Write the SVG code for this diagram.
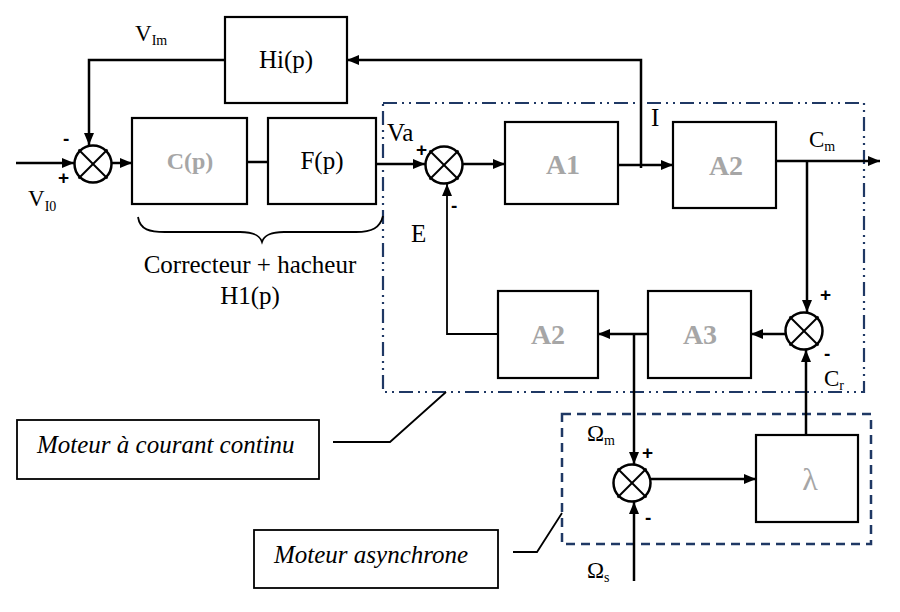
<svg xmlns="http://www.w3.org/2000/svg" width="900" height="612" viewBox="0 0 900 612">
<defs>
<marker id="arr" viewBox="0 0 12 10" refX="12" refY="5" markerWidth="12" markerHeight="10" markerUnits="userSpaceOnUse" orient="auto">
<path d="M0,0 L12,5 L0,10 z" fill="#000"/>
</marker>
<g id="sumsym">
<circle cx="0" cy="0" r="18.5" fill="#fff" stroke="#000" stroke-width="2.5"/>
<line x1="-14.5" y1="-14.5" x2="14.5" y2="14.5" stroke="#000" stroke-width="2"/>
<line x1="14.5" y1="-14.5" x2="-14.5" y2="14.5" stroke="#000" stroke-width="2"/>
</g>
</defs>
<style>
.blk{fill:#fff;stroke:#000;stroke-width:2.2}
.w{fill:none;stroke:#000;stroke-width:2.5}
.t{fill:none;stroke:#000;stroke-width:1.8}
.txt{font-family:'Liberation Serif','Times New Roman','DejaVu Serif',serif;font-size:25px;fill:#000}
.gr{font-family:'Liberation Serif','Times New Roman','DejaVu Serif',serif;font-size:28px;font-weight:bold;fill:#A6A6A6;text-anchor:middle}
.lbl{font-family:'Liberation Serif','Times New Roman','DejaVu Serif',serif;font-size:23px;fill:#000}
.big{font-size:25px}
.sub{font-size:14px}
.sg{font-family:'Liberation Sans',Arial,sans-serif;font-size:19px;font-weight:bold;fill:#000}
.it{font-family:'Liberation Serif','Times New Roman','DejaVu Serif',serif;font-size:25px;font-style:italic;fill:#000}
.dd{fill:none;stroke:#1F3864;stroke-width:2.2;stroke-dasharray:14 5 2 5 2 5}
.ds{fill:none;stroke:#1F3864;stroke-width:2.5;stroke-dasharray:9 6}
</style>
<rect width="900" height="612" fill="#fff"/>

<!-- subsystem frames -->
<g id="frame-mcc"><rect class="dd" x="383" y="103" width="481" height="289"/></g>
<g id="frame-mas"><rect class="ds" x="562" y="414" width="309" height="130"/></g>

<!-- nodes -->
<g id="sum1"><use href="#sumsym" x="93" y="164"/></g>
<g id="sum2"><use href="#sumsym" x="444" y="165"/></g>
<g id="sum3"><use href="#sumsym" x="804" y="331"/></g>
<g id="sum4"><use href="#sumsym" x="632" y="483"/></g>

<g id="hi"><rect class="blk" x="225" y="17" width="122" height="86"/><text class="txt" x="286" y="68" text-anchor="middle">Hi(p)</text></g>
<g id="cp"><rect class="blk" x="132" y="118" width="115" height="86"/><text class="gr" x="190" y="169" style="font-size:24px">C(p)</text></g>
<g id="fp"><rect class="blk" x="268" y="118" width="108" height="86"/><text class="txt" x="322" y="169" text-anchor="middle">F(p)</text></g>
<g id="a1"><rect class="blk" x="505" y="122" width="113" height="82"/><text class="gr" x="563" y="174">A1</text></g>
<g id="a2top"><rect class="blk" x="673" y="122" width="103" height="86"/><text class="gr" x="726" y="175">A2</text></g>
<g id="a2bot"><rect class="blk" x="498" y="291" width="100" height="87"/><text class="gr" x="548" y="344">A2</text></g>
<g id="a3"><rect class="blk" x="648" y="291" width="103" height="87"/><text class="gr" x="700" y="344">A3</text></g>
<g id="lambda"><rect class="blk" x="756" y="435" width="102" height="87"/><text class="gr" x="810" y="490" style="font-weight:normal;font-size:32px">λ</text></g>

<g id="lbl-mcc"><rect class="blk" x="17" y="420" width="302" height="59" style="stroke-width:1.8"/><text class="it" x="37" y="453">Moteur à courant continu</text></g>
<g id="lbl-mas"><rect class="blk" x="254" y="530" width="244" height="58" style="stroke-width:1.8"/><text class="it" x="274" y="563">Moteur asynchrone</text></g>

<!-- connectors -->
<g id="connectors">
<line class="w" x1="16" y1="163" x2="74" y2="163" marker-end="url(#arr)"/>
<polyline class="w" points="225,60 89,60 89,145" marker-end="url(#arr)"/>
<line class="w" x1="112" y1="163" x2="132" y2="163" marker-end="url(#arr)"/>
<line class="w" x1="247" y1="162" x2="268" y2="162"/>
<line class="w" x1="376" y1="164" x2="425" y2="164" marker-end="url(#arr)"/>
<line class="w" x1="463" y1="164" x2="505" y2="164" marker-end="url(#arr)"/>
<line class="w" x1="618" y1="165" x2="673" y2="165" marker-end="url(#arr)"/>
<polyline class="w" points="641,168 641,60 347,60" marker-end="url(#arr)"/>
<line class="w" x1="776" y1="161" x2="880" y2="161" marker-end="url(#arr)"/>
<line class="w" x1="807" y1="161" x2="807" y2="312" marker-end="url(#arr)"/>
<line class="w" x1="785" y1="334" x2="751" y2="334" marker-end="url(#arr)"/>
<line class="w" x1="648" y1="334" x2="598" y2="334" marker-end="url(#arr)"/>
<polyline class="t" points="498,334 447,334 447,184" marker-end="url(#arr)"/>
<line class="w" x1="634" y1="334" x2="634" y2="464" marker-end="url(#arr)"/>
<line class="w" x1="634" y1="581" x2="634" y2="502" marker-end="url(#arr)"/>
<line class="w" x1="651" y1="479" x2="756" y2="479" marker-end="url(#arr)"/>
<line class="w" x1="806" y1="435" x2="806" y2="350" marker-end="url(#arr)"/>
<polyline class="t" points="333,442 390,442 446,392"/>
<polyline class="t" points="513,552 537,552 562,513"/>
<path class="t" d="M138,217 C140,230 150,232 165,232 L240,232 C255,232 260,236 262,242 C264,236 269,232 284,232 L356,232 C372,232 380,228 383,216"/>
</g>

<!-- labels -->
<g id="labels">
<text class="lbl" x="135" y="41">V<tspan class="sub" dy="4">Im</tspan></text>
<text class="lbl" x="28" y="206">V<tspan class="sub" dy="5">I0</tspan></text>
<text class="sg" x="63" y="145">-</text>
<text class="sg" x="58" y="184">+</text>
<text class="lbl big" x="387" y="141">Va</text>
<text class="sg" x="416" y="156">+</text>
<text class="sg" x="451" y="212">-</text>
<text class="lbl big" x="411" y="242">E</text>
<text class="lbl big" x="651" y="126">I</text>
<text class="lbl" x="809" y="147">C<tspan class="sub" dy="4">m</tspan></text>
<text class="sg" x="820" y="301">+</text>
<text class="sg" x="824" y="360">-</text>
<text class="lbl" x="824" y="386">C<tspan class="sub" dy="4">r</tspan></text>
<text class="lbl" x="587" y="441">Ω<tspan class="sub" dy="4">m</tspan></text>
<text class="sg" x="642" y="459">+</text>
<text class="sg" x="645" y="524">-</text>
<text class="lbl" x="587" y="578">Ω<tspan class="sub" dy="4">s</tspan></text>
<text class="lbl big" x="250" y="273" text-anchor="middle">Correcteur + hacheur</text>
<text class="lbl big" x="250" y="304" text-anchor="middle">H1(p)</text>
</g>
</svg>
